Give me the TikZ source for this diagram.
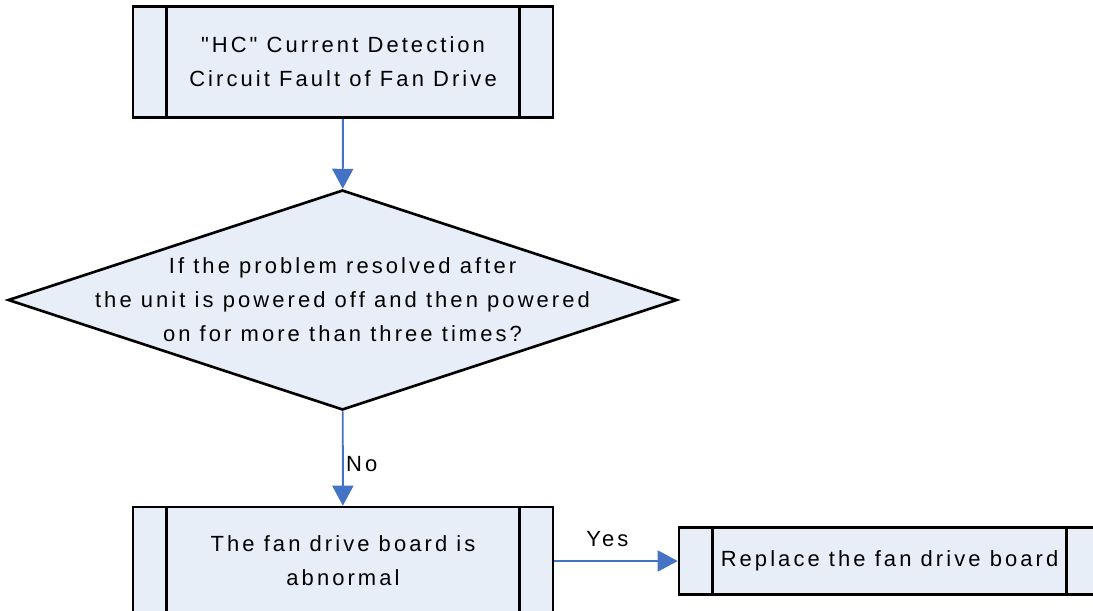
\documentclass[tikz,border=0pt]{standalone}
\usepackage{fontspec}
\setmainfont{Liberation Sans}[LetterSpace=14, Ligatures=TeXOff]
\usetikzlibrary{shapes.geometric, arrows.meta}

\definecolor{boxfill}{RGB}{232,238,247}
\definecolor{flowblue}{RGB}{68,114,196}

\tikzset{
    procbox/.style={draw, line width=1.5pt, fill=boxfill, inner sep=0pt, align=center,
        path picture={
            \draw[line width=1.5pt]
                ([xshift=0.67cm]path picture bounding box.south west) -- ([xshift=0.67cm]path picture bounding box.north west)
                ([xshift=-0.67cm]path picture bounding box.south east) -- ([xshift=-0.67cm]path picture bounding box.north east);
        }},
    decision/.style={draw, diamond, line width=1.5pt, fill=boxfill, inner sep=0pt},
    flow/.style={draw=flowblue, line width=1.1pt, -{Triangle[length=0.4cm, width=0.42cm]}, color=flowblue},
    lbl/.style={text=black}
}

\begin{document}
\begin{tikzpicture}[font=\fontsize{12.5}{19.4}\selectfont]

    \useasboundingbox (0,0) rectangle (21.86,-12.2);
    \clip (0,0) rectangle (21.86,-12.2);

    % Noeuds
    \node[procbox, minimum width=8.4cm, minimum height=2.22cm] (hc) at (6.86, -1.24)
        {"HC" Current Detection\\Circuit Fault of Fan Drive};
    \node[decision, minimum width=13.38cm, minimum height=4.4cm] (check) at (6.85, -6.0) {};
    \node[align=center] (checktext) at (check.center)
        {If the problem resolved after\\the unit is powered off and then powered\\on for more than three times?};
    \node[procbox, minimum width=8.4cm, minimum height=2.16cm] (fault) at (6.86, -11.22)
        {The fan drive board is\\abnormal};
    \node[procbox, minimum width=8.42cm, minimum height=1.34cm] (replace) at (17.79, -11.22)
        {Replace the fan drive board};

    % Flèches
    \draw[flow] (hc) -- (check);
    \draw[flow] (check) -- (fault) node[lbl, midway, right, xshift=-2pt, yshift=-3pt] {No};
    \draw[flow] (fault) -- (replace) node[lbl, pos=0.43, above, yshift=4pt] {Yes};

\end{tikzpicture}
\end{document}
